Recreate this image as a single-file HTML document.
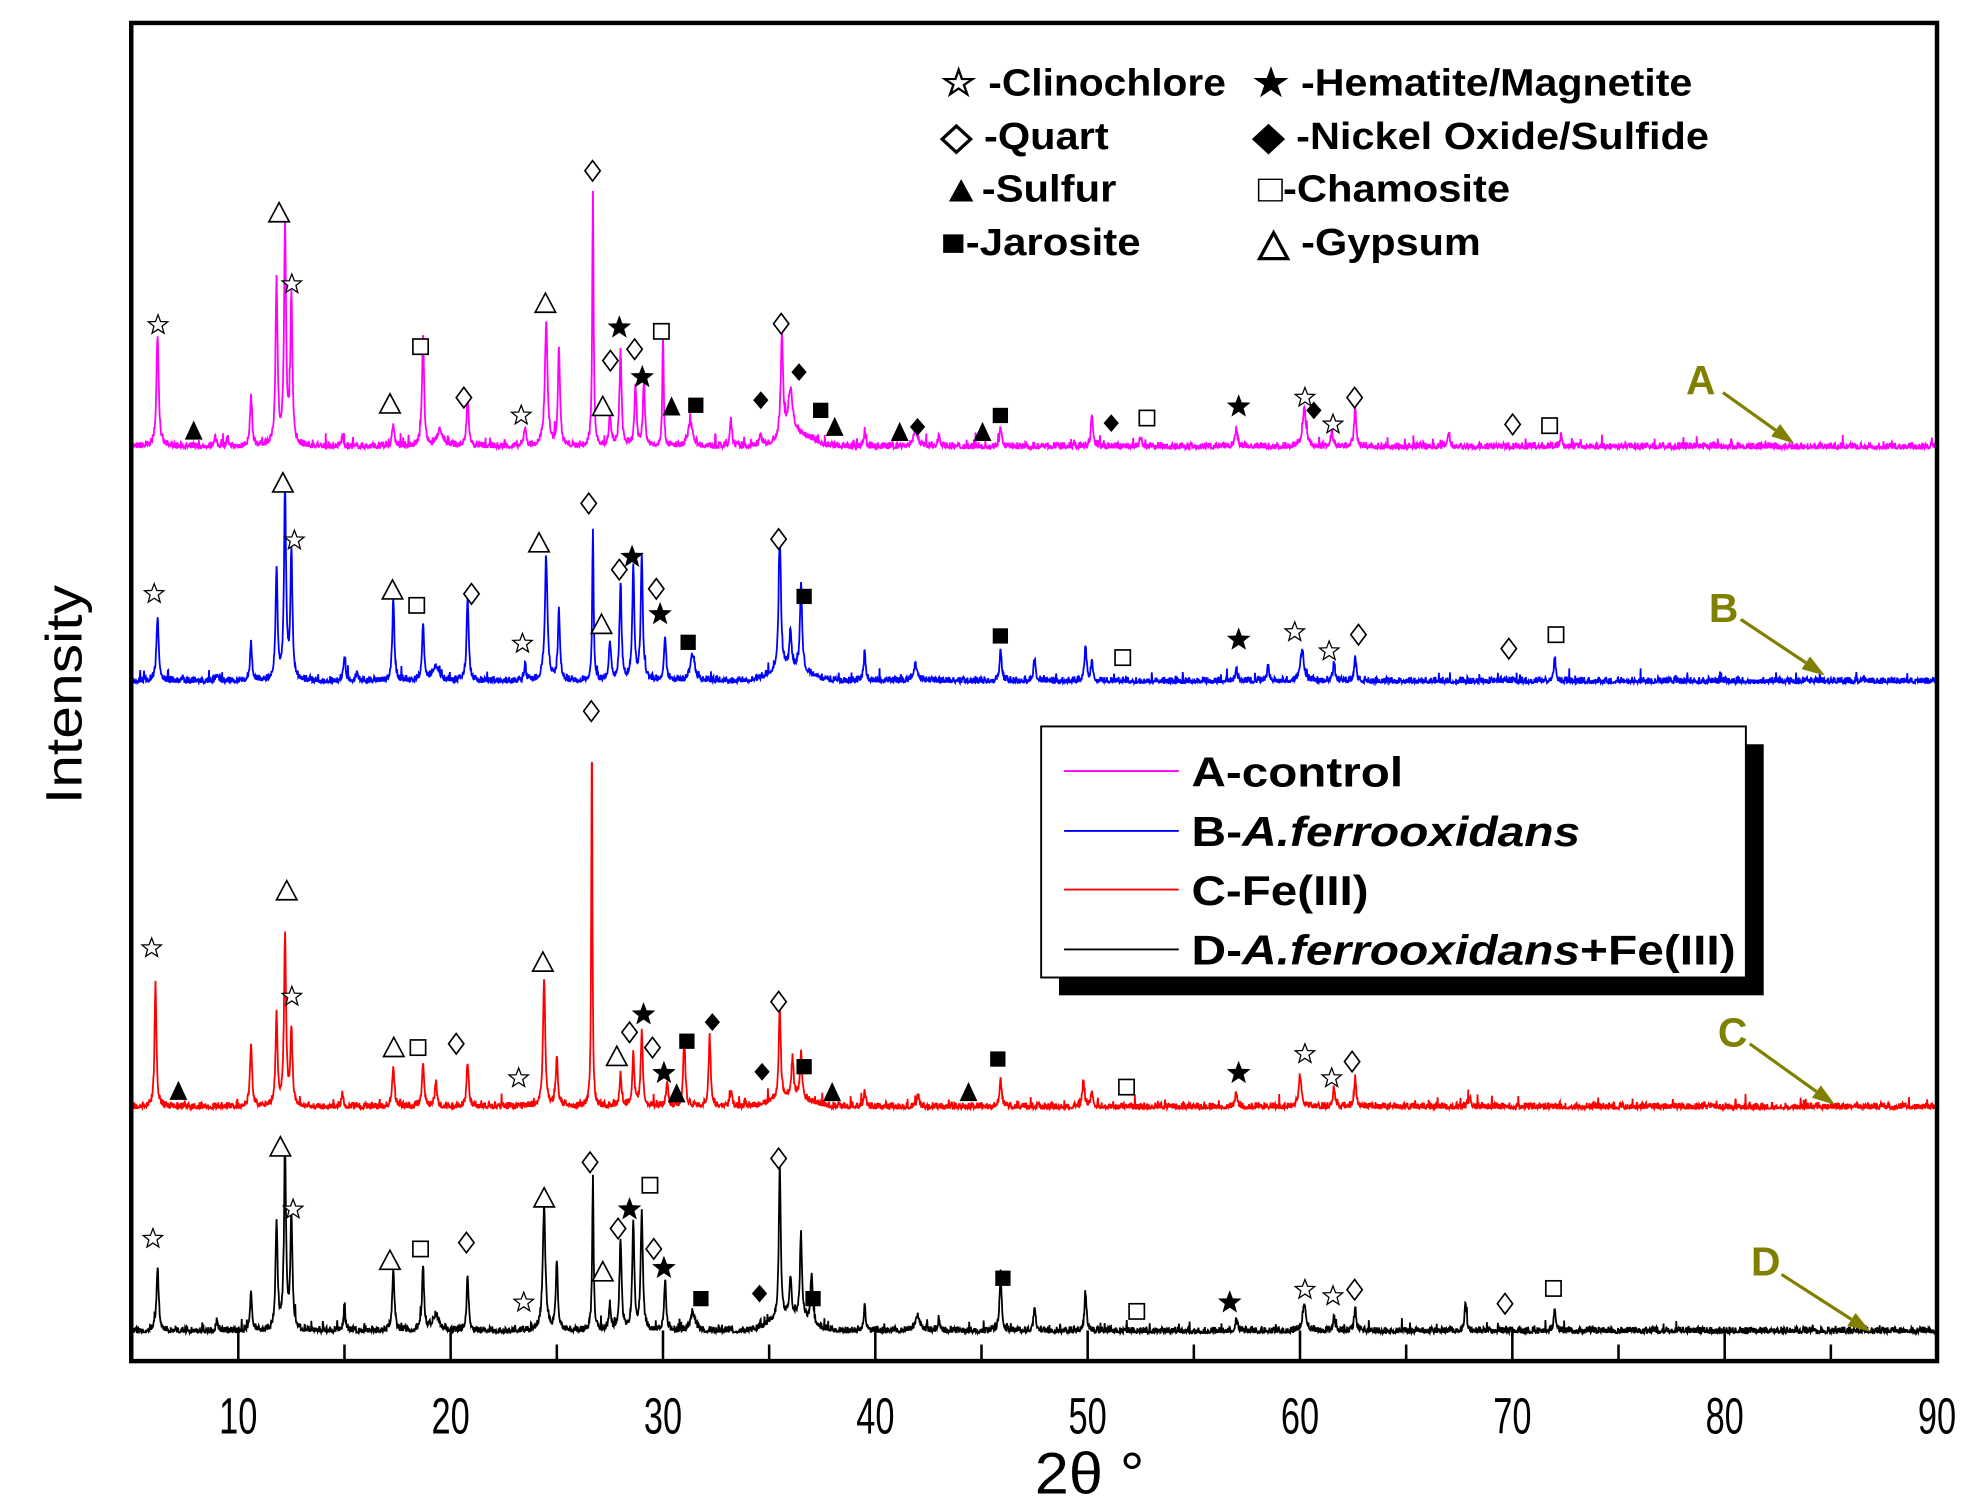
<!DOCTYPE html>
<html><head><meta charset="utf-8"><style>
html,body{margin:0;padding:0;background:#fff;}
svg{display:block;}
text{font-family:"Liberation Sans Narrow","Liberation Sans",sans-serif;}
</style></head><body>
<svg id="s" width="1988" height="1500" viewBox="0 0 1560 1177" preserveAspectRatio="none" xmlns="http://www.w3.org/2000/svg">
<rect width="1560" height="1177" fill="#fff"/>
<g id="series"></g>
<g id="marks"></g>
<rect x="103" y="18" width="1417" height="1050" fill="none" stroke="#000" stroke-width="3.5"/>
<g id="ticks" stroke="#000" stroke-width="2"></g>
<g font-size="40" text-anchor="middle" id="tl"></g>
<text x="855" y="1172" font-size="46" text-anchor="middle" textLength="86" lengthAdjust="spacingAndGlyphs">2θ °</text>
<text transform="translate(64,545) rotate(-90)" font-size="40" text-anchor="middle" font-family="Liberation Sans, sans-serif" textLength="172" lengthAdjust="spacingAndGlyphs">Intensity</text>
<g font-size="30" font-weight="bold">
<text x="738" y="75" textLength="224" lengthAdjust="spacingAndGlyphs">☆ -Clinochlore</text>
<text x="983" y="75" textLength="345" lengthAdjust="spacingAndGlyphs">★ -Hematite/Magnetite</text>
<text x="738" y="117" textLength="132" lengthAdjust="spacingAndGlyphs">◇ -Quart</text>
<text x="983" y="117" textLength="358" lengthAdjust="spacingAndGlyphs">◆ -Nickel Oxide/Sulfide</text>
<text x="738" y="158" textLength="138" lengthAdjust="spacingAndGlyphs">▲-Sulfur</text>
<text x="987" y="158" textLength="198" lengthAdjust="spacingAndGlyphs">□-Chamosite</text>
<text x="738" y="200" textLength="157" lengthAdjust="spacingAndGlyphs">■-Jarosite</text>
<text x="987" y="200" textLength="175" lengthAdjust="spacingAndGlyphs">△ -Gypsum</text>
</g>
<rect x="831" y="584" width="553" height="197" fill="#000"/>
<rect x="817" y="570" width="553" height="197" fill="#fff" stroke="#000" stroke-width="1.5"/>
<g stroke-width="1.5">
<line x1="835" y1="605" x2="925" y2="605" stroke="#ff00ff"/>
<line x1="835" y1="652" x2="925" y2="652" stroke="#0000ff"/>
<line x1="835" y1="698" x2="925" y2="698" stroke="#ff0000"/>
<line x1="835" y1="745" x2="925" y2="745" stroke="#000"/>
</g>
<g font-size="33" font-weight="bold" font-family="Liberation Sans, sans-serif">
<text x="935" y="617" textLength="166" lengthAdjust="spacingAndGlyphs">A-control</text>
<text x="935" y="664" textLength="305" lengthAdjust="spacingAndGlyphs">B-<tspan font-style="italic">A.ferrooxidans</tspan></text>
<text x="935" y="710" textLength="139" lengthAdjust="spacingAndGlyphs">C-Fe(III)</text>
<text x="935" y="757" textLength="427" lengthAdjust="spacingAndGlyphs">D-<tspan font-style="italic">A.ferrooxidans</tspan>+Fe(III)</text>
</g>
<g fill="#808000" font-size="32" font-weight="bold" font-family="Liberation Sans, sans-serif">
<text x="1323" y="309">A</text><text x="1341" y="488">B</text><text x="1348" y="821">C</text><text x="1374" y="1001">D</text>
</g>
<g stroke="#808000" stroke-width="2.5" fill="#808000" id="arr"></g>
</svg>
<script>
var NS="http://www.w3.org/2000/svg";
function X(v){return 187+(v-10)*(1520-187)/80;}
function el(t,a,p){var e=document.createElementNS(NS,t);for(var k in a)e.setAttribute(k,a[k]);p.appendChild(e);return e;}
var tk=document.getElementById('ticks'),tl=document.getElementById('tl');
for(var v=10;v<=90;v+=5){var x=X(v),maj=v%10==0;el('line',{x1:x,y1:1068,x2:x,y2:1068-(maj?24:13)},tk);
 if(maj){var t=el('text',{x:x,y:1125,textLength:30,lengthAdjust:'spacingAndGlyphs'},tl);t.textContent=v;}}
var seed=1;function rnd(){seed=(seed*16807)%2147483647;return seed/2147483647;}
function series(base,peaks,color,s,broad){
 seed=s;var d='';
 for(var v=5;v<=90;v+=0.02){var h=0;
  for(var i=0;i<peaks.length;i++){var p=peaks[i],w=p[2]||0.09,dx=(v-p[0])/w;h+=p[1]/(1+dx*dx*2.5);}
  if(broad){for(var j=0;j<broad.length;j++){var b=broad[j],dd=(v-b[0])/b[2];h+=b[1]*Math.exp(-dd*dd);}}
  var n=rnd();h+=n*n*5+(rnd()<0.03?rnd()*8:0);
  d+=(d?'L':'M')+X(v).toFixed(1)+' '+(base-h).toFixed(1);}
 el('path',{d:d,fill:'none',stroke:color,'stroke-width':1.4},document.getElementById('series'));
}
series(352,[[6.2,88,0.1],[8.9,8],[9.5,6],[10.6,40],[11.8,130],[12.2,168],[12.5,115],[14.9,8],[17.3,18],[18.7,88],[19.5,12,0.3],[20.8,40],[23.5,15],[24.5,97,0.12],[25.1,78],[26.7,200,0.06],[27.5,25],[28.0,75],[28.7,45],[29.1,50],[30.0,90,0.06],[31.3,20,0.2],[33.2,20],[34.6,10],[35.6,80,0.1],[36.0,35,0.2],[39.5,12],[41.9,12,0.2],[43,10],[45.9,15],[50.2,25],[52.5,8],[57,15],[60.2,30,0.15],[61.5,12],[62.6,30],[67,12],[72.3,8]],'#ff00ff',7,[[36.3,10,1.0]]);
series(536,[[6.2,50,0.1],[9,6],[10.6,30],[11.8,85],[12.2,150],[12.5,100],[15,20],[15.6,8],[17.3,65],[18.7,45],[19.3,12,0.3],[20.8,65],[23.5,12],[24.5,95,0.12],[25.1,55],[26.7,120,0.06],[27.5,30],[28.0,75],[28.6,90],[29.0,100],[30.1,35],[31.4,20,0.2],[35.5,105,0.1],[36.0,30],[36.5,70],[39.5,22],[41.9,12,0.2],[45.9,25],[47.5,18],[49.9,27],[50.2,15],[57,10],[58.5,12],[60.1,25,0.15],[61.6,15],[62.6,20],[72,18]],'#0000ff',11,[[36,10,1.2]]);
series(870,[[6.1,100,0.08],[10.6,50],[11.8,70],[12.2,135],[12.5,60],[14.9,10],[17.3,32],[18.7,35],[19.3,20],[20.8,35],[24.4,100,0.1],[25,40],[26.65,295,0.05],[28,25],[28.6,40],[29,60],[30.2,20],[31,55],[32.2,55],[33.2,12],[35.5,75,0.08],[36.1,30],[36.5,35],[39.5,12],[42,10],[45.9,22],[49.8,20],[50.2,12],[57,12],[60,25,0.12],[61.6,15],[62.6,22],[68,8]],'#ff0000',23,[[36,8,1.2]]);
series(1046,[[6.2,50,0.1],[9,8],[10.6,30],[11.8,85],[12.2,140],[12.5,90],[15,15],[17.3,50],[18.7,50],[19.3,12,0.3],[20.8,42],[24.4,95,0.12],[25.0,55],[26.7,120,0.06],[27.5,20],[28,72],[28.6,85],[29.0,95],[30.1,40],[31.4,15,0.2],[35.5,125,0.08],[36.0,30],[36.5,65],[37,40],[39.5,20],[42,12,0.2],[43,10],[45.9,45],[47.5,20],[49.9,30],[57,10],[60.2,22,0.15],[61.6,12],[62.6,18],[67.8,22],[72,18]],'#000',31,[[36,12,1.2]]);
var mg=document.getElementById('marks');
function star(x,y,r,fill){var p='';for(var i=0;i<10;i++){var a=-Math.PI/2+i*Math.PI/5,rr=i%2?r*0.42:r;p+=(x+rr*Math.cos(a)).toFixed(1)+','+(y+rr*Math.sin(a)).toFixed(1)+' ';}
 el('polygon',{points:p,fill:fill?'#000':'#fff',stroke:'#000','stroke-width':fill?0.5:1},mg);}
function M(t,x,y){
 if(t=='s')star(x,y,8,0);else if(t=='S')star(x,y,9,1);
 else if(t=='d')el('polygon',{points:(x)+','+(y-8)+' '+(x+6)+','+y+' '+x+','+(y+8)+' '+(x-6)+','+y,fill:'#fff',stroke:'#000','stroke-width':1.3},mg);
 else if(t=='D')el('polygon',{points:(x)+','+(y-7)+' '+(x+6)+','+y+' '+x+','+(y+7)+' '+(x-6)+','+y,fill:'#000'},mg);
 else if(t=='T')el('polygon',{points:x+','+(y-8)+' '+(x+7)+','+(y+7)+' '+(x-7)+','+(y+7),fill:'#000'},mg);
 else if(t=='t')el('polygon',{points:x+','+(y-8)+' '+(x+8)+','+(y+7)+' '+(x-8)+','+(y+7),fill:'#fff',stroke:'#000','stroke-width':1.3},mg);
 else if(t=='q')el('rect',{x:x-6,y:y-6,width:12,height:12,fill:'#fff',stroke:'#000','stroke-width':1.3},mg);
 else if(t=='Q')el('rect',{x:x-6,y:y-6,width:12,height:12,fill:'#000'},mg);}
var L=[
['s',124,255],['T',152,338],['t',219,167],['s',229,223],['q',330,272],['t',306,317],['d',364,312],['s',409,326],['t',428,238],['d',465,134],['d',479,283],['t',473,319],['S',486,257],['d',498,274],['S',504,296],['q',519,260],['T',527,319],['Q',546,318],['D',597,314],['d',613,254],['D',627,292],['Q',644,322],['T',655,335],['T',706,339],['D',720,335],['T',771,339],['Q',785,326],['D',872,332],['q',900,328],['S',972,319],['s',1024,312],['D',1031,322],['s',1046,333],['d',1063,312],['d',1187,333],['q',1216,334],
['s',121,466],['t',222,379],['s',231,424],['t',308,463],['q',327,475],['d',370,466],['s',410,505],['t',423,426],['d',462,395],['d',486,447],['t',472,490],['S',496,437],['d',515,462],['S',518,482],['Q',540,504],['d',611,423],['Q',631,468],['Q',785,499],['q',881,516],['S',972,502],['s',1016,496],['s',1043,511],['d',1066,498],['d',1184,509],['q',1221,498],
['s',119,744],['T',140,856],['t',225,699],['s',229,782],['t',309,822],['q',328,822],['d',358,819],['s',407,846],['t',426,755],['d',464,558],['t',484,829],['d',494,810],['S',505,796],['d',512,822],['S',521,842],['T',531,858],['Q',539,817],['D',559,802],['D',598,841],['d',611,786],['Q',631,837],['T',653,857],['T',760,857],['Q',783,831],['q',884,853],['S',972,842],['s',1024,827],['s',1045,846],['d',1061,833],
['s',120,972],['t',220,900],['s',230,949],['t',306,989],['q',330,980],['d',366,975],['s',411,1022],['t',427,940],['d',463,912],['d',485,964],['t',473,998],['S',494,949],['q',510,930],['d',513,980],['S',521,995],['Q',550,1019],['D',596,1015],['d',611,909],['Q',638,1019],['Q',787,1003],['q',892,1029],['S',965,1022],['s',1024,1012],['s',1046,1017],['d',1063,1012],['d',1181,1023],['q',1219,1011]];
L.forEach(function(m){M(m[0],m[1],m[2]);});
var ag=document.getElementById('arr');
[[1352,308,1408,348],[1366,486,1432,530],[1373,819,1440,867],[1398,1000,1468,1045]].forEach(function(a){
 var dx=a[2]-a[0],dy=a[3]-a[1],l=Math.sqrt(dx*dx+dy*dy),ux=dx/l,uy=dy/l,bx=a[2]-ux*18,by=a[3]-uy*18;
 el('line',{x1:a[0],y1:a[1],x2:bx,y2:by},ag);
 el('polygon',{points:a[2]+','+a[3]+' '+(bx-uy*6)+','+(by+ux*6)+' '+(bx+uy*6)+','+(by-ux*6),stroke:'none'},ag);});
</script>
</body></html>
